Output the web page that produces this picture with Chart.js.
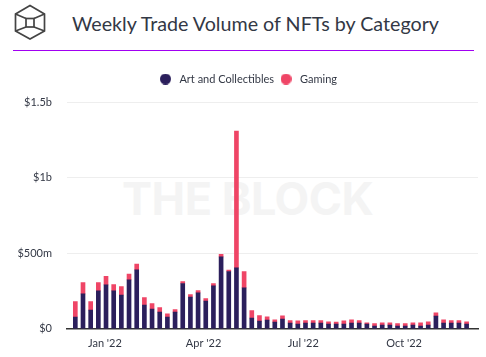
<!DOCTYPE html>
<html>
<head>
<meta charset="utf-8">
<script src="https://cdn.jsdelivr.net/npm/chart.js@4/dist/chart.umd.min.js"></script>
<style>
    html, body { margin: 0; padding: 0; background: #fff; }
    #page { position: relative; width: 486px; height: 357px; overflow: hidden; font-family: Lato, sans-serif; }
    #logo { position: absolute; left: 13px; top: 4px; }
    #title { position: absolute; left: 72px; top: 9px; font-size: 19.7px; line-height: 30px; color: #333845; white-space: nowrap; }
    #rule { position: absolute; left: 13px; right: 12px; top: 50px; height: 1px; background: #a100f2; }
    #mark { position: absolute; left: 122px; top: 174px; font-family: Inter, sans-serif; font-weight: 700; font-size: 45px; line-height: 50px; letter-spacing: -0.5px; color: #f4f4f4; white-space: nowrap; }
    #wrap { position: absolute; left: 0; top: 57px; width: 486px; height: 300px; }
</style>
</head>
<body>
<div id="page">
    <svg id="logo" width="34" height="38" viewBox="0 0 34 38" fill="none" stroke="#444" stroke-width="1.7">
        <path d="M17 1.5 L31.5 10 L31.5 27 L17 35 L2.5 27 L2.5 10 Z"/>
        <path d="M2.5 10 L13 14.5 M31.5 10 L21 14.5 M2.5 27 L13 23 M31.5 27 L21 23"/>
        <rect x="13" y="14.5" width="8" height="8.5"/>
    </svg>
    <div id="title">Weekly Trade Volume of NFTs by Category</div>
    <div id="rule"></div>
    <div id="mark">THE BLOCK</div>
    <div id="wrap"><canvas id="grafico"></canvas></div>
</div>
<script>
const semanas = [
    "2021-12-05", "2021-12-12", "2021-12-19", "2021-12-26", "2022-01-02", "2022-01-09", "2022-01-16", "2022-01-23",
    "2022-01-30", "2022-02-06", "2022-02-13", "2022-02-20", "2022-02-27", "2022-03-06", "2022-03-13", "2022-03-20",
    "2022-03-27", "2022-04-03", "2022-04-10", "2022-04-17", "2022-04-24", "2022-05-01", "2022-05-08", "2022-05-15",
    "2022-05-22", "2022-05-29", "2022-06-05", "2022-06-12", "2022-06-19", "2022-06-26", "2022-07-03", "2022-07-10",
    "2022-07-17", "2022-07-24", "2022-07-31", "2022-08-07", "2022-08-14", "2022-08-21", "2022-08-28", "2022-09-04",
    "2022-09-11", "2022-09-18", "2022-09-25", "2022-10-02", "2022-10-09", "2022-10-16", "2022-10-23", "2022-10-30",
    "2022-11-06", "2022-11-13", "2022-11-20", "2022-11-27"
];
const arte = [
    78, 231, 124, 251, 291, 251, 224, 324, 391, 158, 131, 111, 78, 111, 300, 211, 238, 184,
    284, 477, 380, 404, 271, 71, 51, 58, 44, 64, 38, 31, 38, 38, 38, 31, 31,
    31, 38, 38, 31, 18, 24, 24, 18, 18, 24, 18, 24, 84, 38, 38, 38, 31
];
const jogos = [
    102, 75, 56, 56, 56, 42, 56, 38, 38, 49, 36, 29, 22, 16, 13, 16, 16, 16,
    16, 16, 9, 906, 109, 49, 36, 22, 16, 22, 16, 22, 16, 16, 16, 16, 13,
    22, 22, 16, 9, 16, 16, 16, 16, 16, 16, 22, 22, 22, 22, 16, 16, 16
];
const ticksX = ["2022-01-01", "2022-04-01", "2022-07-01", "2022-10-01"];
const nomesX = ["Jan '22", "Apr '22", "Jul '22", "Oct '22"];
const ticksY = [0, 500, 1000, 1500];
const nomesY = ["$0", "$500m", "$1b", "$1.5b"];

const corArte = "#2b1f5c";
const corJogos = "#ef4566";
const posX = ticksX.map(d => Date.parse(d));
const DIA = 86400000;

// bolinha da legenda: o circulo padrao sai grande demais
function bolinha(cor) {
    const c = document.createElement("canvas");
    c.width = 11;
    c.height = 11;
    const g = c.getContext("2d");
    g.fillStyle = cor;
    g.beginPath();
    g.arc(5.5, 5.5, 5.5, 0, Math.PI * 2);
    g.fill();
    return c;
}

// deixa um espaco maior entre a legenda e o grafico
const espacoLegenda = {
    id: "espacoLegenda",
    beforeInit(chart) {
        const fit = chart.legend.fit;
        chart.legend.fit = function () {
            fit.call(this);
            this.height += 8;
        };
    }
};

new Chart(document.getElementById("grafico"), {
    type: "bar",
    plugins: [espacoLegenda],
    data: {
        datasets: [
            {
                label: "Art and Collectibles",
                data: semanas.map((d, i) => ({ x: Date.parse(d), y: arte[i] })),
                backgroundColor: corArte,
                pointStyle: bolinha(corArte),
                barThickness: 4
            },
            {
                label: "Gaming",
                data: semanas.map((d, i) => ({ x: Date.parse(d), y: jogos[i] })),
                backgroundColor: corJogos,
                pointStyle: bolinha(corJogos),
                barThickness: 4
            }
        ]
    },
    options: {
        responsive: true,
        maintainAspectRatio: false,
        animation: false,
        layout: { padding: { left: 16, right: 8, top: 13, bottom: -2 } },
        plugins: {
            tooltip: { enabled: false },
            legend: {
                position: "top",
                labels: {
                    usePointStyle: true,
                    pointStyleWidth: 17,
                    padding: 3.5,
                    color: "#333845",
                    font: { family: "Lato, sans-serif", size: 11 }
                }
            }
        },
        scales: {
            x: {
                type: "linear",
                bounds: "data",
                offset: false,
                stacked: true,
                min: Date.parse(semanas[0]) - 7.6 * DIA,
                max: Date.parse(semanas[51]) + 10.4 * DIA,
                afterBuildTicks: s => { s.ticks = posX.map(v => ({ value: v })); },
                grid: { display: false, drawTicks: false, offset: false },
                border: { color: "#333", width: 1.5 },
                ticks: {
                    autoSkip: false,
                    maxRotation: 0,
                    padding: 8.5,
                    color: "#333845",
                    font: { family: "Lato, sans-serif", size: 11 },
                    callback: v => nomesX[posX.indexOf(v)]
                }
            },
            y: {
                stacked: true,
                min: 0,
                max: 1500,
                afterFit: s => { s.width = 51; },
                afterBuildTicks: s => { s.ticks = ticksY.map(v => ({ value: v })); },
                grid: { color: "#eeeeee", drawTicks: false },
                border: { display: false },
                ticks: {
                    padding: 15,
                    color: "#333845",
                    font: { family: "Lato, sans-serif", size: 11 },
                    callback: v => nomesY[ticksY.indexOf(v)]
                }
            }
        }
    }
});
</script>
</body>
</html>
